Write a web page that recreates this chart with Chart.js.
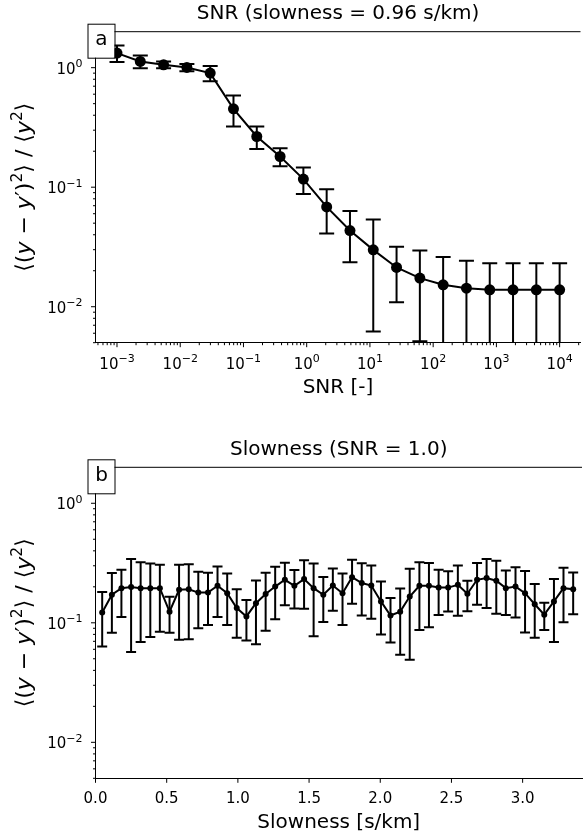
<!DOCTYPE html>
<html>
<head>
<meta charset="utf-8">
<script src="https://cdn.jsdelivr.net/npm/chart.js@4.4.1/dist/chart.umd.min.js"></script>
<style>
  html, body { margin: 0; padding: 0; background: #fff; }
  #wrap { position: relative; width: 586px; height: 838px; }
  .panel { position: absolute; left: 0; width: 586px; height: 419px; }
</style>
</head>
<body>
<div id="wrap">
  <div class="panel" style="top:0"><canvas id="chartA"></canvas></div>
  <div class="panel" style="top:419px"><canvas id="chartB"></canvas></div>
</div>
<script>
// panel a: error vs SNR (slowness fixed)
const snr = [0.001, 0.002336, 0.005456, 0.01274, 0.02976, 0.06952, 0.1624, 0.3793, 0.8859, 2.069,
             4.833, 11.29, 26.37, 61.58, 143.8, 336.0, 784.8, 1833, 4281, 10000];
const meanA = [1.325, 1.127, 1.057, 1.004, 0.901, 0.453, 0.2656, 0.1807, 0.1169, 0.0684,
               0.0434, 0.0299, 0.0213, 0.01735, 0.01525, 0.0143, 0.01385, 0.01385, 0.01385, 0.01385];
const errA = [0.21, 0.14, 0.07, 0.071, 0.132, 0.131, 0.057, 0.031, 0.029, 0.0275,
              0.0198, 0.0237, 0.0104, 0.0122, 0.0108, 0.0100, 0.0093, 0.0093, 0.0093, 0.0093];

// panel b: error vs slowness (SNR = 1)
const slowness = [0.047, 0.115, 0.182, 0.250, 0.317, 0.385, 0.452, 0.520, 0.587, 0.655,
                  0.722, 0.790, 0.857, 0.925, 0.992, 1.060, 1.127, 1.195, 1.262, 1.330,
                  1.397, 1.465, 1.532, 1.600, 1.667, 1.735, 1.802, 1.870, 1.937, 2.005,
                  2.072, 2.140, 2.207, 2.275, 2.342, 2.410, 2.477, 2.545, 2.612, 2.680,
                  2.747, 2.815, 2.882, 2.950, 3.017, 3.085, 3.152, 3.220, 3.287, 3.355];
const meanB = [0.122, 0.1715, 0.195, 0.199, 0.195, 0.195, 0.195, 0.124, 0.189, 0.191,
               0.179, 0.179, 0.204, 0.177, 0.133, 0.113, 0.146, 0.174, 0.201, 0.229,
               0.204, 0.232, 0.195, 0.1715, 0.205, 0.177, 0.241, 0.215, 0.205, 0.151,
               0.115, 0.124, 0.166, 0.204, 0.204, 0.197, 0.197, 0.208, 0.175, 0.229,
               0.237, 0.225, 0.195, 0.201, 0.177, 0.143, 0.117, 0.151, 0.195, 0.191];
const errB = [0.0587, 0.089, 0.083, 0.142, 0.126, 0.119, 0.111, 0.0415, 0.117, 0.118,
              0.089, 0.083, 0.092, 0.081, 0.058, 0.042, 0.080, 0.088, 0.094, 0.089,
              0.0725, 0.101, 0.118, 0.070, 0.079, 0.081, 0.0965, 0.100, 0.097, 0.071,
              0.0465, 0.070, 0.117, 0.117, 0.112, 0.081, 0.0725, 0.0935, 0.050, 0.0875,
              0.104, 0.106, 0.079, 0.090, 0.094, 0.068, 0.030, 0.082, 0.094, 0.073];

// ticks ('^' marks the exponent part)
const xTicksA = [1e-3, 1e-2, 1e-1, 1, 10, 100, 1000, 10000];
const xLabelsA = ['10^−3', '10^−2', '10^−1', '10^0', '10^1', '10^2', '10^3', '10^4'];
const xTicksB = [0, 0.5, 1.0, 1.5, 2.0, 2.5, 3.0];
const xLabelsB = ['0.0', '0.5', '1.0', '1.5', '2.0', '2.5', '3.0'];
const yTicks = [0.01, 0.1, 1];
const yLabels = ['10^−2', '10^−1', '10^0'];
// y label pieces: n = normal, i = italic, s = superscript
const yLabelParts = [['⟨(', 'n'], ['y', 'i'], [' − ', 'n'], ['y', 'i'], ['′', 'n'], [')', 'n'], ['2', 's'],
                     ['⟩ / ⟨', 'n'], ['y', 'i'], ['2', 's'], ['⟩', 'n']];

const FONT = "'DejaVu Sans', sans-serif";

function logMinors(lo, hi) {
  const out = [];
  for (let e = lo; e <= hi; e++) {
    for (let m = 2; m <= 9; m++) out.push(m * Math.pow(10, e));
  }
  return out;
}

// draws "10^e" style label; anchor is centre or right edge, y is the baseline
function drawLabel(ctx, text, x, y, align) {
  const [base, exp] = text.split('^');
  ctx.font = '15px ' + FONT;
  const wb = ctx.measureText(base).width;
  let we = 0;
  if (exp) { ctx.font = '11px ' + FONT; we = ctx.measureText(exp).width; }
  const w = wb + we;
  const x0 = align === 'center' ? x - w / 2 : x - w;
  ctx.textAlign = 'left';
  ctx.textBaseline = 'alphabetic';
  ctx.font = '15px ' + FONT;
  ctx.fillText(base, x0, y);
  if (exp) {
    ctx.font = '11px ' + FONT;
    ctx.fillText(exp, x0 + wb, y - 6.5);
  }
}

function partFont(kind) {
  if (kind === 'i') return 'italic 22px ' + FONT;
  if (kind === 's') return '15.5px ' + FONT;
  return '22px ' + FONT;
}

const panelDecor = {
  id: 'panelDecor',
  beforeDatasetsDraw(chart, args, opts) {
    const { ctx, chartArea: a } = chart;
    const xs = chart.scales.x, ys = chart.scales.y;
    ctx.save();
    ctx.beginPath();
    ctx.rect(a.left, a.top, a.right - a.left, a.bottom - a.top);
    ctx.clip();
    ctx.strokeStyle = '#000';
    ctx.lineWidth = opts.barWidth;
    chart.data.datasets.forEach(ds => {
      (ds.err || []).forEach((e, i) => {
        const p = ds.data[i];
        const px = xs.getPixelForValue(p.x);
        const yT = ys.getPixelForValue(p.y + e);
        const yB = ys.getPixelForValue(Math.max(p.y - e, 1e-4));
        ctx.beginPath();
        ctx.moveTo(px, yT); ctx.lineTo(px, yB);
        ctx.moveTo(px - opts.cap, yT); ctx.lineTo(px + opts.cap, yT);
        ctx.moveTo(px - opts.cap, yB); ctx.lineTo(px + opts.cap, yB);
        ctx.stroke();
      });
    });
    ctx.restore();
  },
  afterDraw(chart, args, opts) {
    const { ctx, chartArea: a } = chart;
    const xs = chart.scales.x, ys = chart.scales.y;
    ctx.save();
    ctx.strokeStyle = '#000';
    ctx.fillStyle = '#000';
    ctx.lineWidth = 1;
    // top spine
    ctx.beginPath();
    ctx.moveTo(a.left, a.top); ctx.lineTo(a.right, a.top);
    ctx.stroke();
    // tick marks
    const tickSet = (scale, vals, len, horiz) => {
      ctx.beginPath();
      vals.forEach(v => {
        const p = scale.getPixelForValue(v);
        if (horiz) {
          if (p < a.left - 0.5 || p > a.right + 0.5) return;
          ctx.moveTo(p, a.bottom); ctx.lineTo(p, a.bottom + len);
        } else {
          if (p < a.top - 0.5 || p > a.bottom + 0.5) return;
          ctx.moveTo(a.left, p); ctx.lineTo(a.left - len, p);
        }
      });
      ctx.stroke();
    };
    tickSet(xs, opts.xMajor, 4.5, true);
    tickSet(xs, opts.xMinor, 2.5, true);
    tickSet(ys, yTicks, 4.5, false);
    tickSet(ys, logMinors(-3, 0), 2.5, false);
    // tick labels
    opts.xMajor.forEach((v, i) => {
      const lab = opts.xLabels[i];
      drawLabel(ctx, lab, xs.getPixelForValue(v), a.bottom + (lab.includes('^') ? 26 : 24.5), 'center');
    });
    yTicks.forEach((v, i) => drawLabel(ctx, yLabels[i], a.left - 13, ys.getPixelForValue(v) + 6, 'right'));
    // y axis label, rotated
    let total = 0;
    yLabelParts.forEach(([t, k]) => { ctx.font = partFont(k); total += ctx.measureText(t).width; });
    ctx.save();
    ctx.translate(23, (a.top + a.bottom) / 2);
    ctx.rotate(-Math.PI / 2);
    ctx.textAlign = 'left';
    ctx.textBaseline = 'alphabetic';
    let cx = -total / 2;
    yLabelParts.forEach(([t, k]) => {
      ctx.font = partFont(k);
      ctx.fillText(t, cx, k === 's' ? -1.5 : 7.5);
      cx += ctx.measureText(t).width;
    });
    ctx.restore();
    // title
    ctx.font = '20px ' + FONT;
    ctx.textAlign = 'center';
    ctx.textBaseline = 'middle';
    ctx.fillText(opts.title, (a.left + a.right) / 2, a.top - 18);
    // panel letter
    const bx = a.left - 8, by = a.top - 8;
    ctx.fillStyle = '#fff';
    ctx.fillRect(bx, by, 27, 34);
    ctx.strokeRect(bx + 0.5, by + 0.5, 27, 34);
    ctx.fillStyle = '#000';
    ctx.fillText(opts.letter, bx + 14, by + 16);
    ctx.restore();
  }
};

function makeChart(id, cfg) {
  return new Chart(document.getElementById(id), {
    type: 'line',
    data: {
      datasets: [{
        data: cfg.xs.map((x, i) => ({ x: x, y: cfg.ys[i] })),
        err: cfg.err,
        borderColor: '#000',
        borderWidth: 2,
        pointRadius: cfg.radius,
        pointBackgroundColor: '#000',
        pointBorderWidth: 0,
        tension: 0
      }]
    },
    options: {
      responsive: true,
      maintainAspectRatio: false,
      animation: false,
      events: [],
      layout: { padding: { top: cfg.padTop, bottom: cfg.padBottom, left: 0, right: 0 } },
      plugins: {
        legend: { display: false },
        tooltip: { enabled: false },
        panelDecor: cfg.decor
      },
      scales: {
        x: {
          type: cfg.xType,
          min: cfg.xMin,
          max: cfg.xMax,
          grid: { display: false, drawTicks: false },
          border: { display: true, color: '#000', width: 1 },
          ticks: { display: false },
          title: { display: true, text: cfg.xTitle, font: { family: FONT, size: 20 }, color: '#000', padding: { top: 0, bottom: 3 } },
          afterFit: s => { s.height = cfg.xHeight; }
        },
        y: {
          type: 'logarithmic',
          min: 0.005,
          max: 2,
          grid: { display: false, drawTicks: false },
          border: { display: true, color: '#000', width: 1 },
          ticks: { display: false },
          afterFit: s => { s.width = 95.5; }
        }
      }
    },
    plugins: [panelDecor]
  });
}

makeChart('chartA', {
  xs: snr, ys: meanA, err: errA, radius: 5.5,
  xType: 'logarithmic', xMin: Math.pow(10, -3.34), xMax: Math.pow(10, 4.33),
  xTitle: 'SNR [-]',
  padTop: 31.7, padBottom: 16.3, xHeight: 60,
  decor: {
    title: 'SNR (slowness = 0.96 s/km)', letter: 'a', barWidth: 2, cap: 7.5,
    xMajor: xTicksA, xLabels: xLabelsA, xMinor: logMinors(-4, 4)
  }
});

makeChart('chartB', {
  xs: slowness, ys: meanB, err: errB, radius: 3,
  xType: 'linear', xMin: 0, xMax: 3.417,
  xTitle: 'Slowness [s/km]',
  padTop: 48.3, padBottom: 0, xHeight: 59.7,
  decor: {
    title: 'Slowness (SNR = 1.0)', letter: 'b', barWidth: 2, cap: 5,
    xMajor: xTicksB, xLabels: xLabelsB, xMinor: []
  }
});
</script>
</body>
</html>
